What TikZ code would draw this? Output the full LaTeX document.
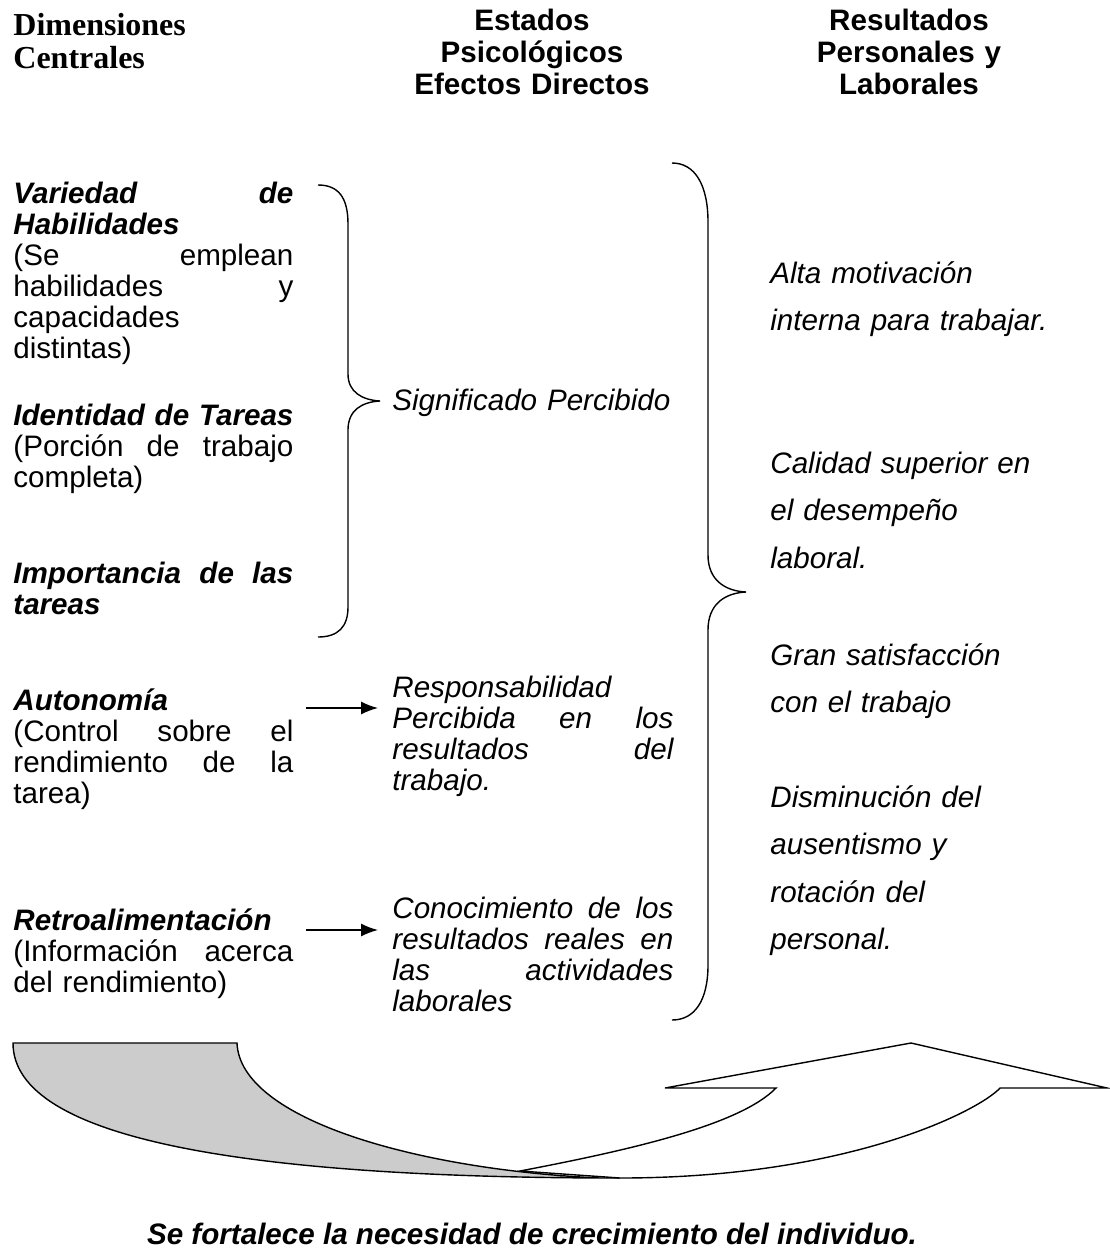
\documentclass[tikz,border=0pt]{standalone}
\usepackage{fontspec}
\setmainfont{Liberation Sans}
\newfontfamily\headserif{Liberation Serif}
\usetikzlibrary{arrows.meta,calc}

% justified line of a column (words spread with \hfill)
\newcommand{\jl}[2][140pt]{\makebox[#1][l]{#2}}

\tikzset{
  texto/.style={anchor=base west, inner sep=0pt, align=left,
    font=\fontsize{14.8}{15.5}\selectfont},
  columna/.style={texto, text width=140pt},
  centro/.style={texto, text width=140.5pt, font=\fontsize{14.8}{15.5}\selectfont\itshape},
  resultado/.style={texto, text width=160pt, font=\fontsize{14.8}{23.75}\selectfont\itshape},
  encabezado/.style={anchor=base, inner sep=0pt, align=center, text width=200pt,
    font=\fontsize{14.8}{16}\selectfont\bfseries},
  flecha/.style={-{Latex[length=8.5pt,width=6.5pt]}, line width=0.7pt},
  llave/.style={line width=0.7pt},
}

\begin{document}
\begin{tikzpicture}[x=0.5pt, y=-0.5pt]
  \useasboundingbox (0,0) rectangle (1109,1253);

  % headers
  \node[texto, text width=120pt, font=\headserif\fontsize{16}{16.5}\selectfont\bfseries]
    (hdim) at (13,35) {Dimensiones\\ Centrales};
  \node[encabezado] (hest) at (532,30) {Estados\\ Psicológicos\\ Efectos Directos};
  \node[encabezado] (hres) at (909,30) {Resultados\\ Personales y\\ Laborales};

  % core dimensions
  \node[columna] (varied) at (13,203)
    {\bfseries\itshape \jl{Variedad\hfill de}\\ Habilidades\\
     \mdseries\upshape \jl{(Se\hfill emplean}\\ \jl{habilidades\hfill y}\\ capacidades\\ distintas)};
  \node[columna] (ident) at (13,425)
    {\jl{\bfseries\itshape Identidad\hfill de\hfill Tareas}\\
     \jl{(Porción\hfill de\hfill trabajo}\\ completa)};
  \node[columna] (import) at (13,583)
    {\bfseries\itshape \jl{Importancia\hfill de\hfill las}\\ tareas};
  \node[columna] (auton) at (13,710)
    {{\bfseries\itshape Autonomía}\\ \jl{(Control\hfill sobre\hfill el}\\
     \jl{rendimiento\hfill de\hfill la}\\ tarea)};
  \node[columna] (retro) at (13,930)
    {{\bfseries\itshape Retroalimentación}\\ \jl{(Información\hfill acerca}\\ del rendimiento)};

  % psychological states
  \node[centro] (signif) at (392,410) {Significado Percibido};
  \node[centro] (respon) at (392,697)
    {Responsabilidad\\ \jl[140.5pt]{Percibida\hfill en\hfill los}\\
     \jl[140.5pt]{resultados\hfill del}\\ trabajo.};
  \node[centro] (conoc) at (392,918)
    {\jl[140.5pt]{Conocimiento\hfill de\hfill los}\\ \jl[140.5pt]{resultados\hfill reales\hfill en}\\
     \jl[140.5pt]{las\hfill actividades}\\ laborales};

  % outcomes
  \node[resultado] (motiv) at (770,283) {Alta motivación\\ interna para trabajar.};
  \node[resultado] (calidad) at (770,473) {Calidad superior en\\ el desempeño\\ laboral.};
  \node[resultado] (satisf) at (770,665) {Gran satisfacción\\ con el trabajo};
  \node[resultado] (disminu) at (770,807)
    {Disminución del\\ ausentismo y\\ rotación del\\ personal.};

  \node[texto, anchor=base, font=\fontsize{14.8}{15.5}\selectfont\bfseries\itshape]
    (fortalece) at (532,1244) {Se fortalece la necesidad de crecimiento del individuo.};

  % braces
  \draw[llave] (318,185) .. controls (338,185) and (348,197) .. (348,224) -- (348,374)
    .. controls (348,392) and (362,400) .. (380,401)
    .. controls (362,402) and (348,410) .. (348,430) -- (348,607)
    .. controls (348,627) and (338,637) .. (318,637);
  \draw[llave] (672,163) .. controls (695,163) and (708,185) .. (708,222) -- (708,555)
    .. controls (708,580) and (725,591) .. (746,592)
    .. controls (725,593) and (708,604) .. (708,630) -- (708,965)
    .. controls (708,1000) and (695,1020) .. (672,1020);

  % arrows
  \coordinate (autA) at ($(auton.base east)+(12,-2)$);
  \coordinate (retA) at ($(retro.base east)+(12,0)$);
  \draw[flecha, shorten >=7pt] (autA) -- (autA -| respon.west);
  \draw[flecha, shorten >=7pt] (retA) -- (retA -| conoc.west);

  % curved up arrow
  \filldraw[fill=black!20, draw=black, line width=0.7pt]
    (13,1043) -- (237,1043) .. controls (240,1120) and (420,1170) .. (600,1178)
    -- (620,1178) .. controls (250,1178) and (13,1140) .. cycle;
  \filldraw[fill=white, draw=black, line width=0.7pt]
    (520,1171) .. controls (630,1150) and (740,1125) .. (776,1088)
    -- (665,1088) -- (911,1043) -- (1107,1088) -- (1000,1088)
    .. controls (980,1110) and (850,1178) .. (620,1178) -- cycle;
\end{tikzpicture}
\end{document}
